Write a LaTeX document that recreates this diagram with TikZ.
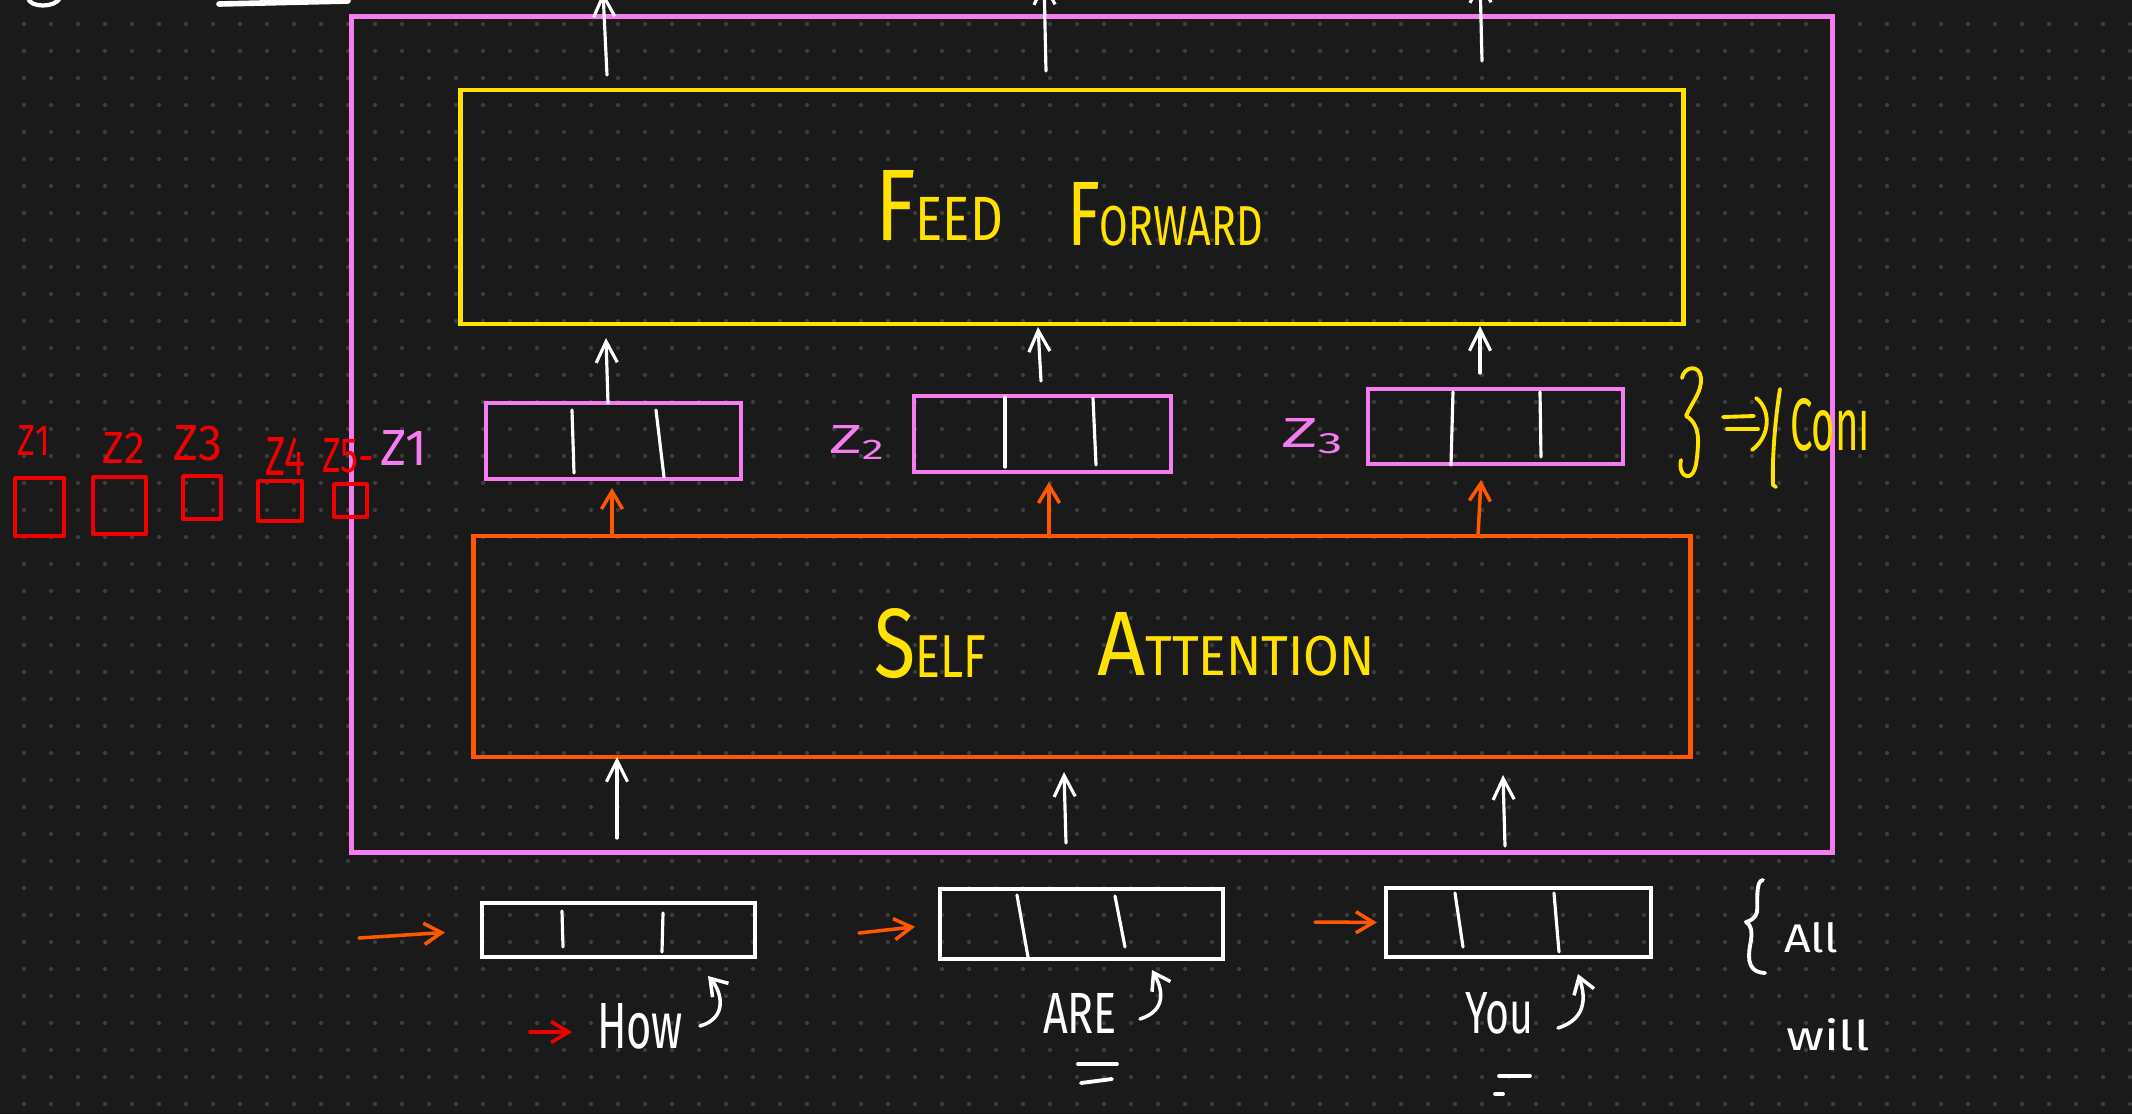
\documentclass[tikz,border=0pt]{standalone}
\usepackage{graphicx}
\usepackage{fontspec}
\setmainfont{Fira Sans}
\usetikzlibrary{arrows.meta,calc}
\definecolor{bgc}{RGB}{26,26,26}
\definecolor{dotc}{RGB}{60,60,60}
\definecolor{pinkc}{RGB}{245,125,240}
\definecolor{yellowc}{RGB}{255,226,0}
\definecolor{orangec}{RGB}{255,88,0}
\definecolor{redc}{RGB}{240,0,0}
\newcommand\BigL[1]{{\fontsize{26}{28}\selectfont #1}}
\newcommand\SmL[1]{{\fontsize{16}{18}\selectfont #1}}
\begin{document}
\begin{tikzpicture}[x=0.01cm,y=-0.01cm,
 box/.style={inner sep=0pt, outer sep=0pt, line width=1.35pt},
 vecbox/.style={inner sep=0pt, outer sep=0pt, line width=1.1pt},
 divider/.style={draw=white, line width=0.9pt, line cap=round},
 warr/.style={draw=white, line width=0.9pt, line cap=round, -{Straight Barb[length=6pt,width=6pt]}},
 carr/.style={draw=white, line width=1pt, line cap=round, -{Straight Barb[length=4.5pt,width=6pt]}},
 oarr/.style={draw=orangec, line width=1pt, line cap=round, -{Straight Barb[length=5pt,width=6pt]}},
 rarr/.style={draw=redc, line width=1pt, line cap=round, -{Straight Barb[length=5pt,width=6pt]}},
 hand/.style={line width=1.1pt, line cap=round, line join=round},
 lbl/.style={inner sep=0pt, outer sep=0pt, anchor=base west},
]
\useasboundingbox (0,0) rectangle (2132,1114);
\fill[bgc] (0,0) rectangle (2132,1114);
\clip (0,0) rectangle (2132,1114);
\foreach \j in {0,...,40}{
  \fill[dotc] \foreach \i in {0,...,78}{(24+27*\i,24+27*\j) circle (0.6pt)};
}

% main boxes
\node[box, draw=pinkc, minimum width=14.80cm, minimum height=8.35cm] (outer) at (1092,434.5) {};
\node[box, draw=yellowc, minimum width=12.22cm, minimum height=2.34cm] (ff) at (1072,207) {};
\node[box, draw=orangec, minimum width=12.16cm, minimum height=2.21cm] (sa) at (1082,646.5) {};

% z vectors
\node[vecbox, draw=pinkc, minimum width=2.55cm, minimum height=0.76cm] (z1) at (613.5,441) {};
\node[vecbox, draw=pinkc, minimum width=2.57cm, minimum height=0.76cm] (z2) at (1042.5,434) {};
\node[vecbox, draw=pinkc, minimum width=2.55cm, minimum height=0.75cm] (z3) at (1495.5,426.5) {};
\draw[divider] (572,410) -- (574,473);
\draw[divider] (656,410) -- (664,477);
\draw[divider] (1005,397) -- (1005,467);
\draw[divider] (1093,398) -- (1096,465);
\draw[divider] (1453,392) -- (1451,465);
\draw[divider] (1540,392) -- (1541,457);

% input vectors
\node[vecbox, draw=white, minimum width=2.73cm, minimum height=0.54cm] (x1) at (618.5,930) {};
\node[vecbox, draw=white, minimum width=2.83cm, minimum height=0.70cm] (x2) at (1081.5,924) {};
\node[vecbox, draw=white, minimum width=2.65cm, minimum height=0.69cm] (x3) at (1518.5,922.5) {};
\draw[divider] (562,911) -- (563,947);
\draw[divider] (663,913) -- (662,952);
\draw[divider] (1017,895) -- (1028,957);
\draw[divider] (1115,896) -- (1125,947);
\draw[divider] (1455,893) -- (1463,947);
\draw[divider] (1554,893) -- (1559,952);

% titles
\node[lbl, text=yellowc] (feed) at (875,240) {\resizebox{1.28cm}{0.70cm}{\BigL{F}\SmL{EED}}};
\node[lbl, text=yellowc] (forward) at (1067,245) {\resizebox{1.96cm}{0.63cm}{\BigL{F}\SmL{ORWARD}}};
\node[lbl, text=yellowc] (self) at (874,677) {\resizebox{1.12cm}{0.69cm}{\BigL{S}\SmL{ELF}}};
\node[lbl, text=yellowc] (attn) at (1097,675) {\resizebox{2.78cm}{0.63cm}{\BigL{A}\SmL{TTENTION}}};

% word labels
\node[lbl, text=white] (how) at (597,1048) {\resizebox{0.86cm}{0.45cm}{How}};
\node[lbl, text=white] (are) at (1043,1033) {\resizebox{0.74cm}{0.40cm}{ARE}};
\node[lbl, text=white] (you) at (1465,1033) {\resizebox{0.68cm}{0.41cm}{You}};
\node[lbl, text=white] (all) at (1784,952) {\resizebox{0.54cm}{0.30cm}{All}};
\node[lbl, text=white] (will) at (1786,1050) {\resizebox{0.84cm}{0.32cm}{will}};
\node[lbl, text=yellowc] (coni) at (1790,450) {\resizebox{0.80cm}{0.52cm}{Con\i}};

% z labels
\node[lbl, text=redc] (r1) at (18,455) {\resizebox{0.32cm}{0.30cm}{Z1}};
\node[lbl, text=redc] (r2) at (103,463) {\resizebox{0.42cm}{0.31cm}{Z2}};
\node[lbl, text=redc] (r3) at (173,460) {\resizebox{0.49cm}{0.35cm}{Z3}};
\node[lbl, text=redc] (r4) at (265,475) {\resizebox{0.40cm}{0.38cm}{Z4}};
\node[lbl, text=redc] (r5) at (322,472) {\resizebox{0.36cm}{0.34cm}{Z5}};
\node[lbl, text=pinkc] (pz1) at (380,465) {\resizebox{0.47cm}{0.35cm}{Z1}};
\node[lbl, text=pinkc] (pz2) at (829,453) {\resizebox{0.58cm}{0.28cm}{Z\textsubscript{2}}};
\node[lbl, text=pinkc] (pz3) at (1281,447) {\resizebox{0.65cm}{0.29cm}{Z\textsubscript{3}}};

% red squares
\draw[redc, hand] (15,478) rectangle (64,536);
\draw[redc, hand] (93,477) rectangle (146,534);
\draw[redc, hand] (183,476) rectangle (221,519);
\draw[redc, hand] (258,481) rectangle (302,521);
\draw[redc, hand] (334,484) rectangle (367,517);
\draw[redc, hand] (362,458) -- (370,458);

% arrows: self attention -> z
\draw[oarr] (612,536) -- (612,488);
\draw[oarr] (1049,536) -- (1049,482);
\draw[oarr] (1478,536) -- (1481,480);
% z -> feed forward
\draw[warr] (608,403) -- (606,338);
\draw[warr] (1041,381) -- (1038,327);
\draw[warr] (1480,373) -- (1480,326);
% feed forward -> out
\draw[warr] (607,75) -- (603,-8);
\draw[warr] (1046,71) -- (1044,-20);
\draw[warr] (1482,61) -- (1480,-22);
% inputs -> self attention
\draw[warr] (617,838) -- (617,757);
\draw[warr] (1066,843) -- (1064,772);
\draw[warr] (1505,846) -- (1503,775);

% orange input arrows
\draw[oarr, shorten >=0.37cm] (359,938) -- (x1.west);
\draw[oarr, shorten >=0.25cm] (859,933) -- (x2.west);
\draw[oarr, shorten >=0.09cm] (1315,922) -- (x3.west);
% red arrow to How
\draw[rarr] (530,1032) -- (572,1032);

% curved arrows
\draw[carr] (700,1026) .. controls (728,1018) and (722,992) .. (708,976);
\draw[carr] (1140,1019) .. controls (1168,1010) and (1162,988) .. (1152,970);
\draw[carr] (1558,1028) .. controls (1590,1018) and (1584,992) .. (1578,974);

% underlines
\draw[white, hand] (1078,1064) -- (1117,1064);
\draw[white, hand] (1081,1083) -- (1112,1079);
\draw[white, hand] (1499,1076) -- (1530,1076);
\draw[white, hand] (1495,1094) -- (1503,1094);

% braces and marks
\draw[yellowc, hand] (1682,378) .. controls (1684,366) and (1700,364) .. (1701,378) .. controls (1702,392) and (1692,402) .. (1686,416) .. controls (1694,420) and (1699,430) .. (1698,445) .. controls (1697,460) and (1696,474) .. (1689,476) .. controls (1682,477) and (1679,468) .. (1681,460);
\draw[yellowc, hand] (1723,417) -- (1754,416);
\draw[yellowc, hand] (1727,429) -- (1758,429);
\draw[yellowc, hand] (1756,398) .. controls (1770,408) and (1772,435) .. (1752,450);
\draw[yellowc, hand] (1780,389) .. controls (1775,420) and (1772,460) .. (1773,485) -- (1776,487);
\draw[white, hand] (1763,880) .. controls (1755,880) and (1758,905) .. (1757,912) .. controls (1756,918) and (1750,921) .. (1746,922) .. controls (1752,926) and (1752,932) .. (1751,940) .. controls (1749,952) and (1744,972) .. (1765,973);

% top-left fragments
\draw[white, hand, line width=1.2pt] (28,-2) .. controls (30,8) and (55,8) .. (60,-2);
\draw[white, hand, line width=1.6pt] (219,4) -- (348,1);
\end{tikzpicture}
\end{document}
